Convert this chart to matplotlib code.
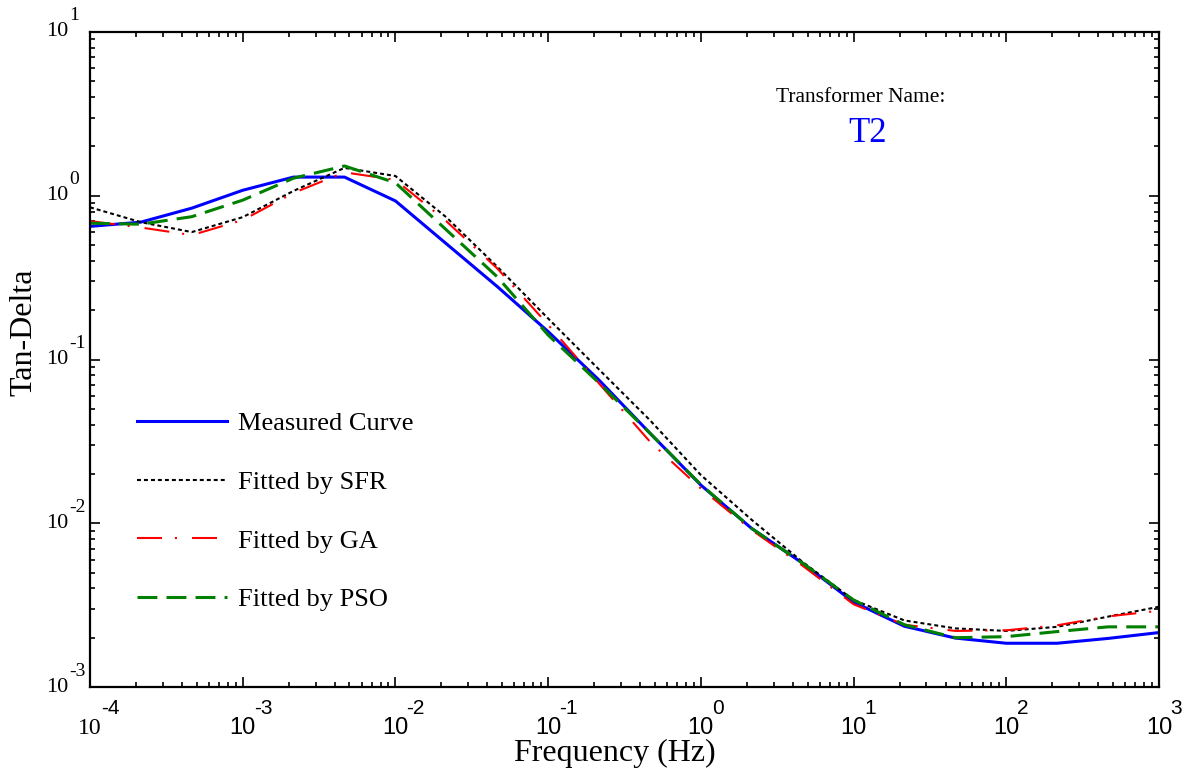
import numpy as np
import matplotlib.pyplot as plt
from matplotlib.ticker import LogLocator, NullFormatter

# frequencies (Hz), 3 points per decade
freq = [1e-4, 2.15e-4, 4.64e-4, 1e-3, 2.15e-3, 4.64e-3, 1e-2, 2.15e-2, 4.64e-2,
        1e-1, 2.15e-1, 4.64e-1, 1e0, 2.15e0, 4.64e0, 1e1, 2.15e1, 4.64e1,
        1e2, 2.15e2, 4.64e2, 1e3]

measured = [0.65, 0.69, 0.84, 1.08, 1.30, 1.30, 0.93, 0.51, 0.279, 0.148, 0.075,
            0.0355, 0.0171, 0.0093, 0.0057, 0.0033, 0.00235, 0.00199, 0.00185,
            0.00185, 0.00198, 0.00215]
sfr = [0.85, 0.69, 0.60, 0.74, 1.07, 1.48, 1.32, 0.74, 0.369, 0.178, 0.087,
       0.0426, 0.0197, 0.0105, 0.0058, 0.0034, 0.00255, 0.00228, 0.0022,
       0.00233, 0.00269, 0.00309]
ga = [0.70, 0.64, 0.575, 0.71, 1.04, 1.39, 1.25, 0.70, 0.36, 0.163, 0.0715,
      0.0315, 0.0163, 0.0091, 0.0055, 0.0032, 0.0024, 0.0022, 0.00222,
      0.00238, 0.0027, 0.00292]
pso = [0.68, 0.67, 0.745, 0.94, 1.28, 1.52, 1.20, 0.62, 0.32, 0.141, 0.072,
       0.0355, 0.0172, 0.0093, 0.0057, 0.0034, 0.0024, 0.0020, 0.00203,
       0.00218, 0.00233, 0.00233]

labels = ["Measured Curve", "Fitted by SFR", "Fitted by GA", "Fitted by PSO"]
x_exps = [-4, -3, -2, -1, 0, 1, 2, 3]
y_exps = [-3, -2, -1, 0, 1]

serif = "Liberation Serif"
sans = "Liberation Sans"

W, H = 1194, 777
fig = plt.figure(figsize=(W / 100, H / 100), dpi=100)
ax = fig.add_axes([90 / W, 1 - 687 / H, (1159 - 90) / W, (687 - 32) / H])
ax.set_xscale("log")
ax.set_yscale("log")

ax.plot(freq, measured, color="#0000ff", lw=2.2, label=labels[0])
ax.plot(freq, sfr, color="black", lw=1.5, dashes=(1.9, 1.45), label=labels[1])
ax.plot(freq, ga, color="#ff0000", lw=1.5, dashes=(12, 6.2, 1, 7.2), label=labels[2])
ax.plot(freq, pso, color="#008000", lw=2.2, dashes=(6.5, 3.0), label=labels[3])

ax.set_xlim(1e-4, 1e3)
ax.set_ylim(1e-3, 1e1)

for axis in (ax.xaxis, ax.yaxis):
    axis.set_major_locator(LogLocator(base=10, numticks=20))
    axis.set_minor_locator(LogLocator(base=10, subs=np.arange(2, 10), numticks=200))
    axis.set_major_formatter(NullFormatter())
    axis.set_minor_formatter(NullFormatter())
ax.tick_params(which="both", direction="in", top=True, right=True, width=1.2)
ax.tick_params(which="major", length=7)
ax.tick_params(which="minor", length=3.6)
for sp in ax.spines.values():
    sp.set_linewidth(1.6)

# tick labels drawn as "10" + raised exponent
for e in x_exps:
    ax.annotate("10", xy=(10.0 ** e, 0), xycoords=("data", "axes fraction"),
                xytext=(0, -41), textcoords="offset pixels", ha="center", va="center",
                fontsize=17, family=serif if e == -4 else sans)
    ax.annotate(str(e), xy=(10.0 ** e, 0), xycoords=("data", "axes fraction"),
                xytext=(11, -22), textcoords="offset pixels", ha="left", va="center",
                fontsize=15, family=sans)
for e in y_exps:
    ax.annotate("10", xy=(0, 10.0 ** e), xycoords=("axes fraction", "data"),
                xytext=(-22, 0), textcoords="offset pixels", ha="right", va="center",
                fontsize=16, family=serif)
    ax.annotate(str(e), xy=(0, 10.0 ** e), xycoords=("axes fraction", "data"),
                xytext=(-21, 16), textcoords="offset pixels", ha="left", va="center",
                fontsize=14, family=serif)

ax.set_xlabel("Frequency (Hz)", family=serif, fontsize=23)
ax.xaxis.set_label_coords(0.491, -0.079)
ax.set_ylabel("Tan-Delta", family=serif, fontsize=23)
ax.yaxis.set_label_coords(-0.048, 0.542)

ax.legend(loc="upper left", bbox_to_anchor=(137 / W, 1 - 412 / H),
          bbox_transform=fig.transFigure, frameon=False,
          prop={"family": serif, "size": 19}, handlelength=3.4,
          handletextpad=0.42, labelspacing=1.33, borderpad=0, borderaxespad=0)

fig.text(861 / W, 1 - 97 / H, "Transformer Name:", ha="center", va="center",
         family=serif, fontsize=15.5)
fig.text(868 / W, 1 - 134 / H, "T2", ha="center", va="center",
         family=serif, fontsize=25, color="#0000ff")

fig.savefig("out.png", dpi=100)
